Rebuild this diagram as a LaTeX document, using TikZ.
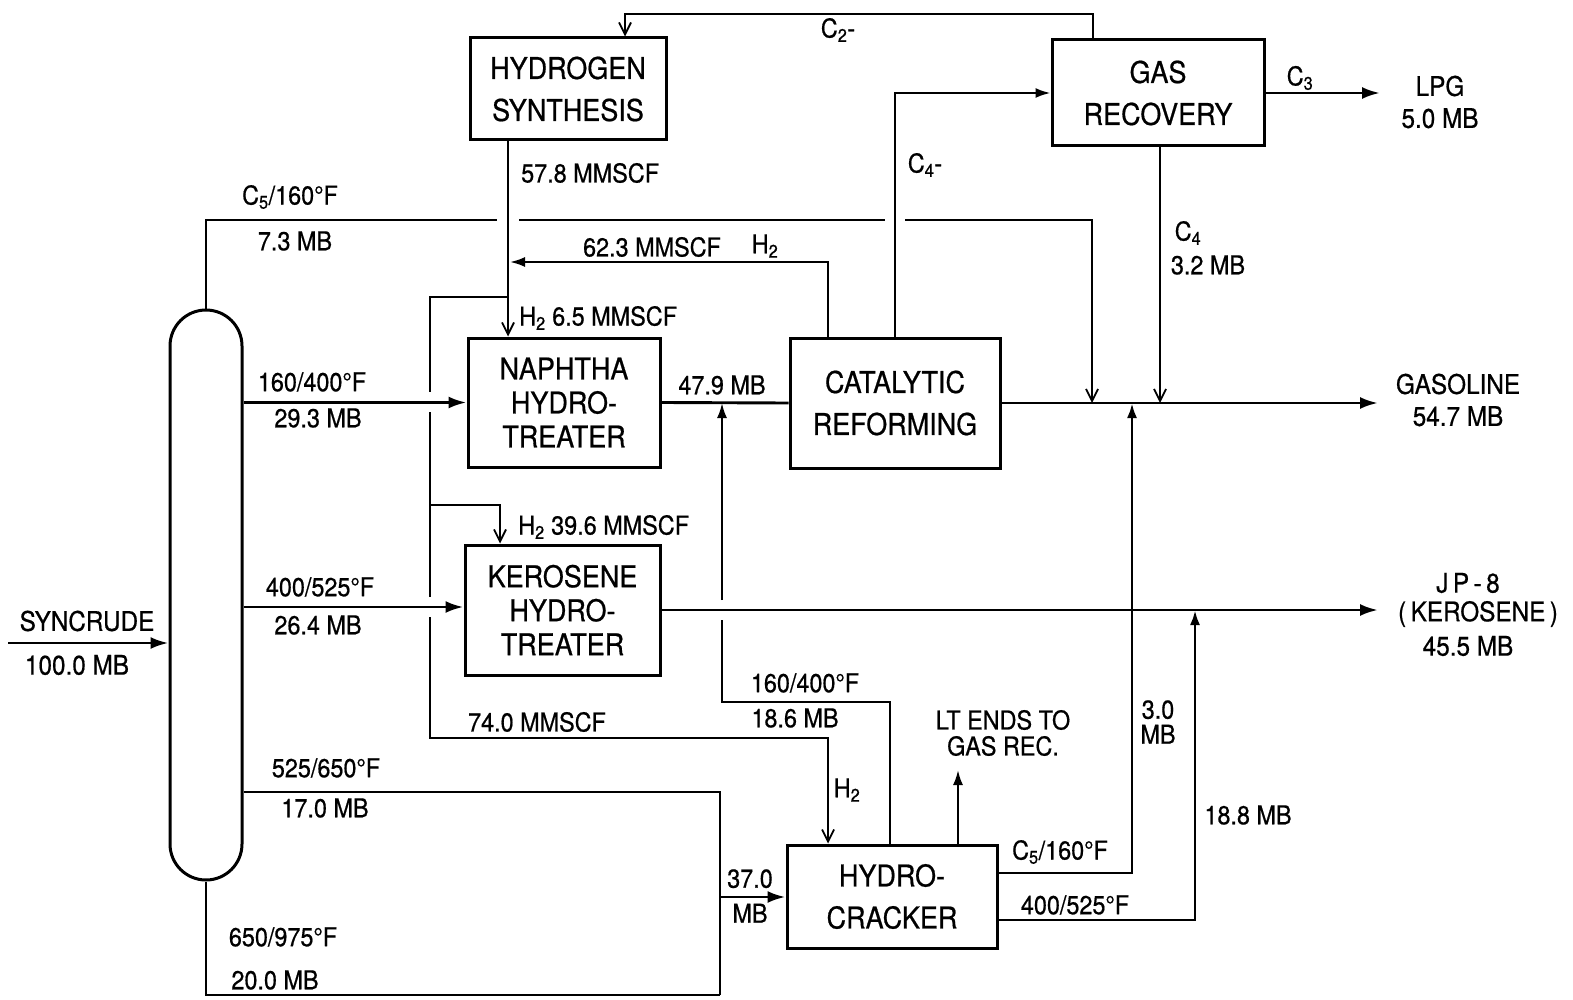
\documentclass[tikz,border=0pt]{standalone}
\usepackage{fontspec}
\setmainfont{TeX Gyre Heros}[FakeStretch=0.9,FakeBold=0.6]
\usetikzlibrary{arrows.meta}
\tikzset{
  unitbox/.style={draw, line width=3pt, inner sep=0pt, align=center,
    font=\fontsize{30}{42}\selectfont},
  threeline/.style={font=\fontsize{30}{34}\selectfont},
  mainline/.style={line width=2.9pt},
  thinline/.style={line width=2.2pt},
  farrow/.style={-{Latex[length=18pt,width=12pt]}},
  sarrow/.style={-{Latex[length=15pt,width=10pt]}},
  varrow/.style={-{Straight Barb[length=12pt,width=12pt,line width=1.8pt]}},
  lbl/.style={font=\fontsize{26}{30}\selectfont, inner sep=0pt},
  outlbl/.style={font=\fontsize{27}{32}\selectfont, inner sep=0pt, align=center},
}
\begin{document}
\begin{tikzpicture}[x=1pt,y=-1pt]
\useasboundingbox (0,0) rectangle (1573,1000);
\fill[white] (0,0) rectangle (1573,1000);

% units
\node[unitbox, minimum width=196pt, minimum height=102pt] (hs) at (568,89) {HYDROGEN\\SYNTHESIS};
\node[unitbox, minimum width=212pt, minimum height=106pt] (gr) at (1158,93) {GAS\\RECOVERY};
\node[unitbox, threeline, minimum width=192pt, minimum height=129pt] (nht) at (564,402.5) {NAPHTHA\\HYDRO-\\TREATER};
\node[unitbox, minimum width=210pt, minimum height=130pt] (cr) at (895,403) {CATALYTIC\\REFORMING};
\node[unitbox, threeline, minimum width=195pt, minimum height=130pt] (kht) at (562.5,610) {KEROSENE\\HYDRO-\\TREATER};
\node[unitbox, minimum width=210pt, minimum height=103pt] (hc) at (892,896.5) {HYDRO-\\CRACKER};
\node[draw, line width=3pt, rounded corners=36pt, minimum width=72pt, minimum height=570pt, inner sep=0pt] (col) at (206,595) {};

% coordinates
\coordinate (c2a) at (1093,14);
\coordinate (c2b) at (625,14);
\coordinate (lpgin) at (1380,93);
\coordinate (g4) at (1160,403);
\coordinate (gasout) at (1378,403);
\coordinate (jpout) at (1378,610);
\coordinate (synin) at (8,643);
\coordinate (c5a) at (497,220);
\coordinate (c5b) at (519,220);
\coordinate (c5c) at (885,220);
\coordinate (c5d) at (905,220);
\coordinate (c5e) at (1092,220);
\coordinate (c5f) at (1092,403);
\coordinate (h62) at (510,262);
\coordinate (h2a) at (508,297);
\coordinate (h2b) at (430,297);
\coordinate (h2c) at (430,738);
\coordinate (h2d) at (430,505);
\coordinate (h2e) at (500,505);
\coordinate (rta) at (890,702);
\coordinate (rtb) at (722,702);
\coordinate (rtc) at (722,403);
\coordinate (lte) at (958,770);
\coordinate (c5h) at (1132,873);
\coordinate (c5i) at (1132,403);
\coordinate (k5a) at (1195,920);
\coordinate (k5b) at (1195,610);
\coordinate (bta) at (720,792);
\coordinate (btb) at (720,995);
\coordinate (btc) at (206,995);
\coordinate (b37) at (720,897);

% connectors
\draw[thinline, varrow] (gr.north -| c2a) -- (c2a) -- (c2b) -- (hs.north -| c2b);
\draw[mainline, farrow] (gr.east |- lpgin) -- (lpgin);
\draw[thinline, sarrow] (cr.north) |- (gr.west);
\draw[thinline, varrow] (gr.south -| g4) -- (g4);
\draw[thinline, varrow] (hs.south -| h2a) -- (nht.north -| h2a);
\draw[thinline] (col.north) |- (c5a);
\draw[thinline] (c5b) -- (c5c);
\draw[thinline, varrow] (c5d) -- (c5e) -- (c5f);
\draw[thinline, sarrow] (cr.north -| 828,0) |- (h62);
\draw[thinline] (h2a) -- (h2b) -- (430,392);
\draw[thinline] (430,412) -- (430,597);
\draw[thinline, varrow] (430,617) -- (h2c) -- (h2c -| 828,0) -- (hc.north -| 828,0);
\draw[thinline, varrow] (h2d) -- (h2e) -- (kht.north -| h2e);
\draw[mainline, farrow] (col.east |- nht.west) -- (nht.west);
\draw[mainline] (nht.east) -- (cr.west);
\draw[mainline, farrow] (cr.east) -- (gasout);
\draw[mainline, farrow] (col.east |- 0,607) -- (kht.west |- 0,607);
\draw[mainline, farrow] (kht.east) -- (jpout);
\draw[mainline, farrow] (synin) -- (col.west |- synin);
\draw[thinline] (hc.north -| rta) -- (rta) -- (rtb) -- (722,620);
\draw[thinline, sarrow] (722,600) -- (rtc);
\draw[thinline, sarrow] (hc.north -| lte) -- (lte);
\draw[mainline, sarrow] (hc.east |- c5h) -- (c5h) -- (c5i);
\draw[mainline, sarrow] (hc.east |- k5a) -- (k5a) -- (k5b);
\draw[mainline] (col.east |- bta) -- (bta) -- (btb);
\draw[thinline] (btb) -- (btc) -- (col.south);
\draw[mainline, farrow] (b37) -- (hc.west |- b37);

% labels
\node[lbl] (l1) at (838,30) {C\textsubscript{2}-};
\node[lbl, anchor=west] (l2) at (521,173) {57.8 MMSCF};
\node[lbl] (l3) at (290,197) {C\textsubscript{5}/160°F};
\node[lbl] (l4) at (295,241) {7.3 MB};
\node[lbl] (l5) at (652,247) {62.3 MMSCF};
\node[lbl] (l6) at (765,246) {H\textsubscript{2}};
\node[lbl] (l7) at (925,165) {C\textsubscript{4}-};
\node[lbl] (l8) at (1300,78) {C\textsubscript{3}};
\node[outlbl] (l9) at (1440,102) {LPG\\5.0 MB};
\node[lbl] (l10) at (1188,233) {C\textsubscript{4}};
\node[lbl] (l11) at (1208,265) {3.2 MB};
\node[lbl, anchor=west] (l12) at (519,318) {H\textsubscript{2} 6.5 MMSCF};
\node[lbl] (l13) at (312,382) {160/400°F};
\node[lbl] (l14) at (318,418) {29.3 MB};
\node[lbl] (l15) at (722,385) {47.9 MB};
\node[outlbl] (l16) at (1458,400) {GASOLINE\\54.7 MB};
\node[lbl, anchor=west] (l17) at (518,527) {H\textsubscript{2} 39.6 MMSCF};
\node[lbl] (l18) at (320,587) {400/525°F};
\node[lbl] (l19) at (318,625) {26.4 MB};
\node[outlbl] (l20) at (87,621) {SYNCRUDE};
\node[outlbl] (l21) at (77,665) {100.0 MB};
\node[outlbl] (l22) at (1468,583) {J\,P\,-\,8};
\node[outlbl] (l23) at (1478,614) {(\,KEROSENE\,)};
\node[outlbl] (l24) at (1468,646) {45.5 MB};
\node[lbl] (l25) at (805,683) {160/400°F};
\node[lbl] (l26) at (795,718) {18.6 MB};
\node[lbl] (l27) at (537,722) {74.0 MMSCF};
\node[lbl, align=center, font=\fontsize{26}{26}\selectfont] (l28) at (1003,733) {LT ENDS TO\\GAS REC.};
\node[lbl, align=center, font=\fontsize{26}{25}\selectfont] (l29) at (1158,722) {3.0\\MB};
\node[lbl] (l30) at (326,768) {525/650°F};
\node[lbl] (l31) at (325,808) {17.0 MB};
\node[lbl] (l32) at (847,790) {H\textsubscript{2}};
\node[lbl] (l33) at (1248,815) {18.8 MB};
\node[lbl] (l34) at (1060,852) {C\textsubscript{5}/160°F};
\node[lbl, align=center, font=\fontsize{26}{35}\selectfont] (l35) at (750,896) {37.0\\MB};
\node[lbl] (l36) at (1075,905) {400/525°F};
\node[lbl] (l37) at (283,937) {650/975°F};
\node[lbl] (l38) at (275,980) {20.0 MB};
\end{tikzpicture}
\end{document}
